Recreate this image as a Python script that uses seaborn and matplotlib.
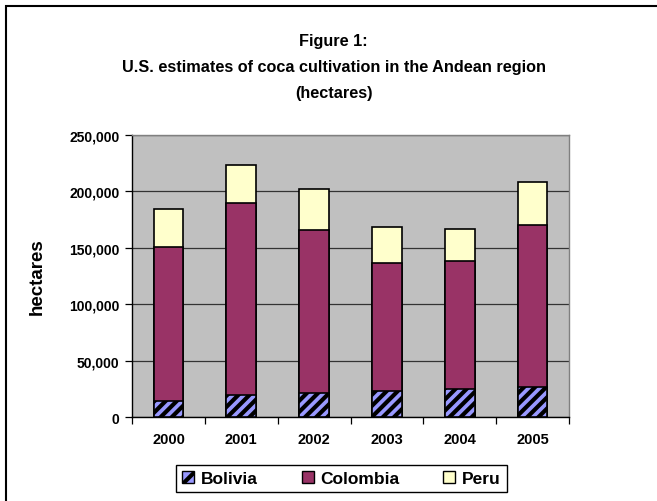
import matplotlib
matplotlib.use("Agg")
import matplotlib.pyplot as plt
import seaborn as sns
import pandas as pd
import numpy as np
from matplotlib.patches import Patch, Rectangle
from matplotlib.ticker import FuncFormatter, FixedLocator

years = ["2000", "2001", "2002", "2003", "2004", "2005"]
bolivia = [14600, 19900, 21600, 23200, 24600, 26500]
colombia = [136200, 169800, 144450, 113850, 114100, 144000]
peru = [34100, 34000, 36000, 31150, 27700, 38000]

df = pd.DataFrame({"year": years, "Bolivia": bolivia, "Colombia": colombia, "Peru": peru})
df["bc"] = df["Bolivia"] + df["Colombia"]
df["total"] = df["bc"] + df["Peru"]

sns.set_theme(style="white")
plt.rcParams["font.family"] = ["Liberation Sans", "DejaVu Sans"]
plt.rcParams["hatch.linewidth"] = 3.0
plt.rcParams["hatch.color"] = "black"
for k in ["text.color", "axes.labelcolor", "xtick.color", "ytick.color"]:
    plt.rcParams[k] = "black"

fig = plt.figure(figsize=(6.57, 5.02), dpi=100)
ax = fig.add_axes([0.201, 0.167, 0.665, 0.562])
ax.set_facecolor("#C0C0C0")

W = 0.41
sns.barplot(data=df, x="year", y="total", color="#FFFFCC", width=W, edgecolor="black",
            linewidth=1.2, saturation=1, ax=ax, zorder=3)
sns.barplot(data=df, x="year", y="bc", color="#993366", width=W, edgecolor="black",
            linewidth=1.2, saturation=1, ax=ax, zorder=3)
sns.barplot(data=df, x="year", y="Bolivia", color="#9999FF", width=W, edgecolor="black",
            linewidth=1.2, saturation=1, ax=ax, zorder=3, hatch="///")

ax.set_ylim(0, 250000)
ax.set_xlim(-0.5, 5.5)
ax.yaxis.set_major_locator(FixedLocator([0, 50000, 100000, 150000, 200000, 250000]))
ax.yaxis.set_major_formatter(FuncFormatter(lambda v, p: f"{int(v):,}"))
ax.grid(axis="y", color="#333333", linewidth=0.9, zorder=0)
ax.set_axisbelow(True)

for lab in ax.get_yticklabels():
    lab.set_fontweight("bold")
    lab.set_fontsize(10)
for lab in ax.get_xticklabels():
    lab.set_fontweight("bold")
    lab.set_fontsize(10.5)

ax.tick_params(axis="y", which="major", direction="out", length=5, width=0.9, color="black", pad=4, left=True)
ax.tick_params(axis="x", which="major", length=0, pad=11)
ax.set_xticks(np.arange(-0.5, 6.0, 1.0), minor=True)
ax.tick_params(axis="x", which="minor", direction="out", length=5, width=0.9, color="black", bottom=True)

for s in ["top", "right"]:
    ax.spines[s].set_color("#808080")
    ax.spines[s].set_linewidth(1.0)
for s in ["left", "bottom"]:
    ax.spines[s].set_color("black")
    ax.spines[s].set_linewidth(1.0)

ax.set_xlabel("")
ax.set_ylabel("hectares", fontsize=13.5, fontweight="bold")
ax.yaxis.set_label_coords(-0.197, 0.5)

fig.text(0.508, 0.918, "Figure 1:", ha="center", va="center", fontsize=11.7, fontweight="bold")
fig.text(0.508, 0.866, "U.S. estimates of coca cultivation in the Andean region", ha="center", va="center",
         fontsize=11.7, fontweight="bold")
fig.text(0.508, 0.814, "(hectares)", ha="center", va="center", fontsize=11.7, fontweight="bold")

handles = [Patch(facecolor="#9999FF", edgecolor="black", hatch="//", label="Bolivia"),
           Patch(facecolor="#993366", edgecolor="black", label="Colombia"),
           Patch(facecolor="#FFFFCC", edgecolor="black", label="Peru")]
leg = fig.legend(handles=handles, loc="center", bbox_to_anchor=(0.52, 0.045), ncol=3,
                 frameon=True, fancybox=False, edgecolor="black", framealpha=1,
                 prop={"weight": "bold", "size": 12.5}, handlelength=0.7, handleheight=0.7,
                 columnspacing=2.5, handletextpad=0.4, borderpad=0.35, borderaxespad=0.0)
leg.get_frame().set_linewidth(1.0)
for t in leg.get_texts():
    t.set_color("black")

fig.patches.append(Rectangle((0.009, -0.05), 1.2, 0.036 + 1.0, transform=fig.transFigure,
                             fill=False, edgecolor="black", linewidth=1.5))

fig.savefig("out.png", dpi=100)
